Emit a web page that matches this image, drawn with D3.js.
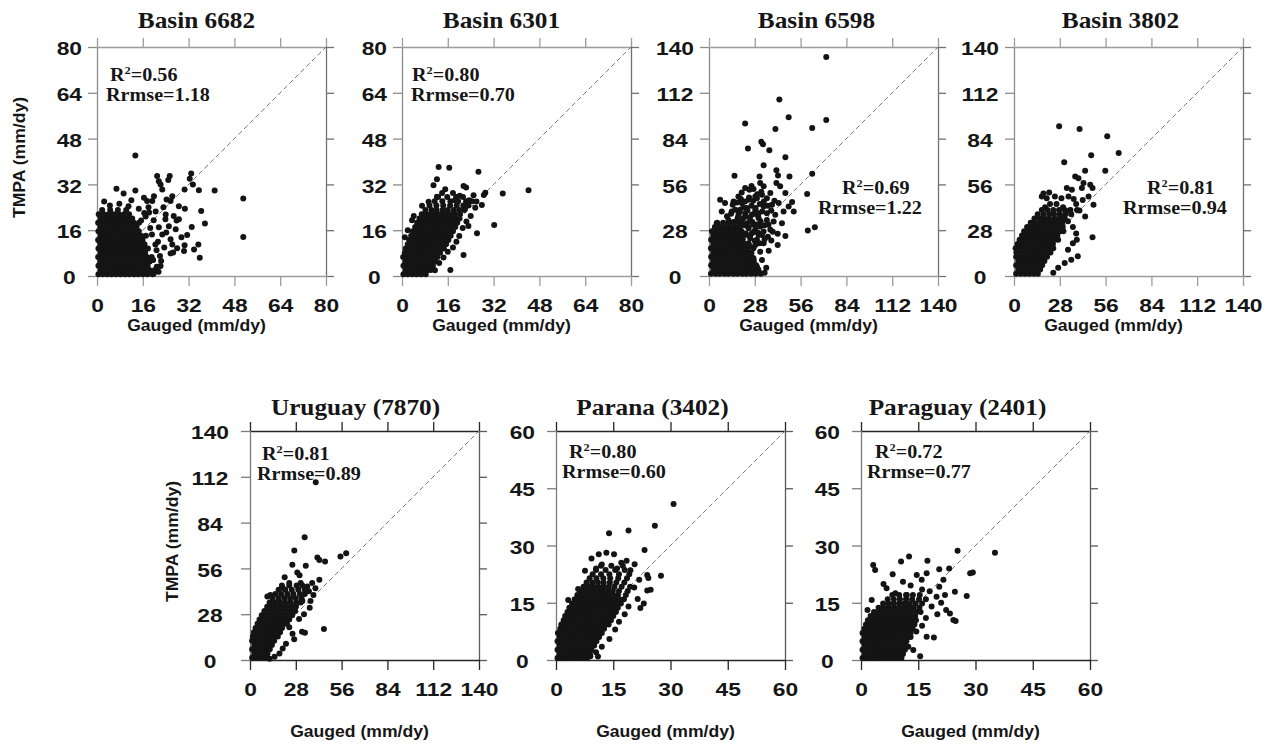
<!DOCTYPE html>
<html>
<head>
<meta charset="utf-8">
<script src="https://cdn.jsdelivr.net/npm/d3@7"></script>
<style>
  body { margin: 0; background: #fff; }
  svg { display: block; }
  .tick text { font-family: "Liberation Sans", Arial, sans-serif; font-weight: bold; font-size: 19px; fill: #161616; }
  .ptitle { font-family: "Liberation Serif", "Times New Roman", serif; font-weight: bold; font-size: 23px; fill: #161616; }
  .stat { font-family: "Liberation Serif", "Times New Roman", serif; font-weight: bold; font-size: 18px; fill: #161616; }
  .atitle { font-family: "Liberation Sans", Arial, sans-serif; font-weight: bold; font-size: 16px; fill: #161616; }
</style>
</head>
<body>
<svg id="chart" width="1269" height="744"></svg>
<script>
// ---- panel descriptors ----
const titles = ["Basin 6682", "Basin 6301", "Basin 6598", "Basin 3802", "Uruguay (7870)", "Parana (3402)", "Paraguay (2401)"];
const r2Values = ["0.56", "0.80", "0.69", "0.81", "0.81", "0.80", "0.72"];
const rrmseValues = ["1.18", "0.70", "1.22", "0.94", "0.89", "0.60", "0.77"];
const axisMax = [80, 80, 140, 140, 140, 60, 60];
const ticks80 = [0, 16, 32, 48, 64, 80];
const ticks140 = [0, 28, 56, 84, 112, 140];
const ticks60 = [0, 15, 30, 45, 60];
const tickSets = [ticks80, ticks80, ticks140, ticks140, ticks140, ticks60, ticks60];

// ---- daily pairs: dense part as [TMPA, [gauged...]] rows, sparse part as [gauged, TMPA] ----
const rows6682 = [
  [0.6, [0.5, 2.0, 3.6, 5.1, 6.7, 8.2, 9.8, 11.3, 12.9, 14.4, 16.0, 17.6, 19.4]],
  [2.1, [1.3, 2.8, 4.4, 5.9, 7.5, 9.0, 10.6, 12.1, 13.7, 15.2, 16.8, 18.3, 20.2]],
  [3.6, [0.5, 2.1, 3.6, 5.2, 6.7, 8.3, 9.8, 11.4, 12.9, 14.5, 16.0, 17.7]],
  [5.1, [1.2, 2.8, 4.3, 5.9, 7.4, 9.0, 10.5, 12.1, 13.6, 15.2, 16.7, 18.4]],
  [6.6, [0.4, 2.0, 3.5, 5.1, 6.6, 8.2, 9.7, 11.3, 12.8, 14.4, 15.9, 17.5, 19.1]],
  [8.1, [1.3, 2.9, 4.4, 6.0, 7.5, 9.1, 10.6, 12.2, 13.7, 15.3, 16.8]],
  [9.6, [0.5, 2.1, 3.6, 5.2, 6.7, 8.3, 9.8, 11.4, 12.9, 14.5, 16.1, 17.8]],
  [11.1, [1.2, 2.8, 4.3, 5.9, 7.4, 9.0, 10.5, 12.1, 13.6, 15.2, 16.6]],
  [12.6, [0.4, 2.0, 3.5, 5.1, 6.6, 8.2, 9.7, 11.3, 12.8, 14.4, 15.9]],
  [14.1, [1.3, 2.9, 4.4, 6.0, 7.5, 9.1, 10.6, 12.2, 13.7, 15.4, 17.1]],
  [15.6, [0.5, 2.1, 3.6, 5.2, 6.7, 8.3, 9.8, 11.4, 12.9, 14.6]],
  [17.1, [1.2, 2.8, 4.3, 5.9, 7.4, 9.0, 10.5, 12.1, 13.8]],
  [18.6, [0.4, 2.0, 3.5, 5.1, 6.6, 8.2, 9.7, 11.3, 12.9, 14.7]],
  [20.1, [1.3, 2.9, 4.4, 6.0, 7.5, 9.1, 10.6, 12.3]],
  [21.6, [0.6, 2.4, 4.1, 5.8, 7.6, 9.4, 11.2]],
  [23.1, [1.8, 4.6, 7.3, 10.2]]
];
const scatter6682 = [
  [6.8, 30.5], [9.3, 28.8], [13.4, 29.9], [13.4, 42.1], [21.0, 34.9], [21.6, 33.1], [25.4, 34.9], [24.9, 33.5],
  [32.9, 35.8], [32.4, 34.0], [33.5, 32.0], [35.6, 30.0], [41.1, 29.9], [51.1, 27.1], [51.1, 13.6], [36.4, 22.7],
  [37.7, 18.3], [33.1, 17.1], [35.9, 6.4], [35.4, 11.0], [33.9, 9.3], [30.6, 10.7], [30.4, 8.7], [28.0, 9.7],
  [25.7, 7.9], [26.6, 8.2], [28.6, 24.4], [30.7, 23.5], [30.6, 30.2], [22.2, 32.0], [22.8, 30.2], [26.3, 27.9],
  [24.3, 26.7], [25.7, 26.2], [27.8, 19.4], [28.6, 19.8], [27.5, 16.3], [25.7, 12.8], [26.3, 11.0], [22.2, 3.5],
  [22.4, 5.2], [23.9, 19.8], [25.1, 17.4], [19.9, 27.9], [19.3, 26.2], [16.4, 27.3], [17.5, 26.2],
  [4.5, 24.6], [7.8, 25.2], [11.0, 24.4], [14.6, 23.5], [16.5, 22.0], [18.0, 24.0], [20.5, 22.5], [19.8, 19.5],
  [21.6, 17.0], [22.8, 14.5], [21.3, 12.0], [23.5, 10.0], [20.8, 9.0], [22.0, 7.0], [21.5, 1.5], [19.8, 0.8],
  [24.0, 21.5], [17.0, 20.8], [19.2, 14.5], [20.4, 11.0], [12.0, 26.5], [2.5, 26.0], [23.2, 24.0], [26.8, 21.0],
  [29.5, 13.5], [31.5, 14.3], [24.2, 15.2], [18.6, 16.8], [19.6, 5.6], [20.9, 3.2], [18.2, 22.2], [15.4, 19.4]
];

const rows6301 = [
  [0.6, [0.5, 2.0, 3.6, 5.1, 6.7, 8.3]],
  [2.1, [1.3, 2.8, 4.4, 5.9, 7.5, 9.0, 10.0]],
  [3.6, [0.5, 2.1, 3.6, 5.2, 6.7, 8.3, 9.8, 10.8]],
  [5.1, [1.2, 2.8, 4.3, 5.9, 7.4, 9.0, 10.5, 11.6]],
  [6.6, [0.4, 2.0, 3.5, 5.1, 6.6, 8.2, 9.7, 11.3, 12.4]],
  [8.1, [1.0, 2.6, 4.1, 5.7, 7.2, 8.8, 10.3, 11.9, 13.3]],
  [9.6, [1.3, 2.9, 4.4, 6.0, 7.5, 9.1, 10.6, 12.2, 13.7, 14.6]],
  [11.1, [2.0, 3.6, 5.1, 6.7, 8.2, 9.8, 11.3, 12.9, 14.4, 15.4]],
  [12.6, [2.5, 4.1, 5.6, 7.2, 8.7, 10.3, 11.8, 13.4, 14.9, 16.2]],
  [14.1, [3.2, 4.8, 6.3, 7.9, 9.4, 11.0, 12.5, 14.1, 15.6, 17.0]],
  [15.6, [3.8, 5.4, 6.9, 8.5, 10.0, 11.6, 13.1, 14.7, 16.2, 17.8]],
  [17.1, [4.6, 6.2, 7.7, 9.3, 10.8, 12.4, 13.9, 15.5, 17.0, 18.6]],
  [18.6, [5.3, 6.9, 8.4, 10.0, 11.5, 13.1, 14.6, 16.2, 17.7, 19.3]],
  [20.1, [6.1, 7.7, 9.2, 10.8, 12.3, 13.9, 15.4, 17.0, 18.5, 20.1]],
  [21.6, [6.9, 8.6, 10.2, 11.9, 13.5, 15.2, 16.8, 18.5, 20.3]],
  [23.1, [8.2, 10.3, 12.1, 14.2, 16.0, 18.1, 20.0, 21.8]],
  [24.6, [9.6, 12.0, 14.4, 16.8, 19.1, 21.4, 23.2]],
  [26.1, [11.4, 14.1, 16.9, 19.6, 22.4, 24.4]],
  [27.6, [12.6, 15.8, 18.9, 21.3]]
];
const scatter6301 = [
  [12.8, 38.1], [16.5, 37.8], [26.7, 36.4], [12.2, 33.8], [11.0, 31.7], [21.5, 31.4], [22.4, 30.9], [15.1, 30.3],
  [29.1, 29.1], [28.6, 28.3], [35.2, 28.8], [44.2, 30.0], [9.3, 25.9], [12.2, 27.7], [4.1, 21.0], [3.5, 19.5],
  [32.2, 17.8], [26.2, 14.9], [21.5, 7.3], [16.9, 2.1], [27.9, 24.8], [25.6, 23.8], [24.0, 21.0], [22.5, 19.0],
  [21.2, 16.8], [20.0, 14.0], [19.0, 12.0], [17.8, 10.0], [16.0, 8.5], [14.5, 6.5], [13.0, 4.5], [11.5, 2.0],
  [2.0, 16.0], [1.0, 13.5], [7.0, 24.5], [17.8, 29.0], [20.2, 28.0], [18.5, 26.5], [23.5, 26.5], [25.0, 28.2],
  [14.0, 29.0], [26.0, 26.0], [22.0, 23.5], [23.2, 17.5]
];

const rows6598 = [
  [1.3, [1.2, 4.1, 6.6, 9.5, 12.0, 14.9, 17.4, 20.3, 22.8, 25.7, 28.5, 31.6]],
  [3.9, [2.6, 5.3, 8.1, 10.7, 13.4, 16.0, 18.8, 21.5, 24.3, 27.0, 30.1]],
  [6.5, [1.3, 4.0, 6.8, 9.4, 12.1, 14.7, 17.5, 20.2, 22.9, 25.8, 28.8]],
  [9.1, [2.5, 5.3, 8.0, 10.8, 13.4, 16.1, 18.7, 21.5, 24.3, 27.4]],
  [11.7, [1.3, 4.0, 6.7, 9.3, 12.1, 14.8, 17.6, 20.2, 23.0, 26.1]],
  [14.3, [2.6, 5.4, 8.0, 10.7, 13.3, 16.1, 18.8, 21.6, 24.6]],
  [16.9, [1.2, 4.0, 6.7, 9.4, 12.2, 14.8, 17.5, 20.3, 23.4]],
  [19.5, [2.6, 5.3, 8.1, 10.7, 13.4, 16.1, 18.9, 21.9]],
  [22.1, [1.3, 4.1, 6.7, 9.4, 12.0, 14.8, 17.6, 20.6]],
  [24.7, [2.6, 5.3, 8.0, 10.8, 13.4, 16.2, 19.3]],
  [27.3, [1.8, 4.5, 7.2, 9.9, 12.6, 15.4, 18.4]],
  [29.9, [3.6, 6.5, 9.4, 12.4, 15.6]],
  [32.5, [5.0, 8.6, 12.0]]
];
const scatter6598 = [
  [71.7, 133.9], [43.0, 107.9], [48.7, 97.1], [71.7, 95.3], [22.1, 93.2], [40.6, 89.9], [63.1, 90.5], [32.0, 82.0],
  [33.0, 80.5], [23.8, 77.9], [36.9, 76.9], [46.7, 72.6], [33.4, 67.7], [41.2, 64.6], [42.2, 61.5], [15.6, 61.3],
  [30.9, 60.9], [49.2, 60.9], [63.1, 62.5], [60.0, 50.1], [60.4, 27.8], [64.7, 29.8], [50.8, 45.2], [51.8, 39.4],
  [48.7, 42.5], [46.7, 24.5], [44.6, 32.3], [45.6, 39.4], [36.5, 15.5], [35.0, 5.1], [38.1, 21.7], [42.0, 19.0],
  [22.1, 53.8], [24.7, 52.7], [27.2, 53.2], [31.3, 56.8], [33.4, 54.8], [41.2, 56.8], [43.5, 54.8], [29.3, 47.6],
  [37.5, 50.7], [46.7, 50.7], [9.8, 44.6], [15.0, 45.6], [18.0, 48.6], [20.0, 44.6], [24.2, 46.6], [28.3, 48.6],
  [32.4, 49.7], [35.4, 47.6], [13.9, 39.4], [19.0, 40.5], [23.1, 41.5], [28.3, 40.5], [33.4, 42.5], [38.5, 43.5],
  [42.6, 44.6], [11.9, 34.3], [17.0, 33.3], [21.1, 35.4], [25.2, 33.3], [30.3, 35.4], [35.4, 34.3], [39.5, 33.3],
  [16.0, 28.2], [20.0, 27.2], [24.2, 29.2], [28.3, 28.2], [33.4, 27.2], [37.5, 28.2], [42.0, 25.8], [25.2, 23.1],
  [29.3, 22.1], [33.4, 20.0], [27.2, 17.0], [31.3, 14.9], [27.2, 10.8], [32.4, 9.8], [29.3, 5.7], [6.8, 46.6],
  [7.8, 39.4], [4.7, 32.3], [8.8, 30.3], [18.0, 37.4], [22.1, 38.4], [26.2, 37.4], [30.3, 38.4], [19.0, 31.3],
  [23.1, 32.3], [27.2, 31.3], [31.3, 30.3], [22.1, 25.1], [26.2, 26.2], [30.3, 25.1], [24.2, 20.0], [28.3, 19.0],
  [32.4, 25.1], [35.4, 38.4], [40.5, 37.4], [36.4, 31.3], [26.0, 14.0], [24.5, 8.0], [30.5, 2.5], [34.0, 2.0],
  [10.0, 22.0], [12.5, 24.0], [15.0, 22.5], [17.5, 25.0], [20.0, 23.0], [22.5, 26.0], [25.0, 24.5], [27.5, 27.0],
  [30.0, 26.5], [14.0, 27.0], [16.5, 30.0], [19.0, 28.5], [21.5, 31.0], [24.0, 30.0], [26.5, 33.0], [29.0, 31.5],
  [31.5, 33.5], [34.0, 31.0], [12.5, 30.5], [15.0, 33.0], [17.5, 35.5], [20.0, 34.0], [22.5, 36.5], [25.0, 35.5],
  [27.5, 38.0], [30.0, 37.0], [32.5, 39.5], [11.0, 36.5], [13.5, 38.0], [16.0, 40.5], [18.5, 39.0], [21.0, 42.0],
  [23.5, 40.0], [26.0, 43.0], [28.5, 41.5], [31.0, 44.0], [33.5, 45.5], [36.0, 43.0], [14.5, 43.5], [17.0, 45.0],
  [19.5, 47.0], [22.0, 45.5], [24.5, 48.0], [27.0, 46.0], [29.5, 50.0], [32.0, 51.5], [38.0, 40.0], [40.0, 46.0],
  [20.0, 51.0], [26.0, 55.0], [36.0, 24.0], [39.0, 27.0], [34.0, 22.5], [31.0, 20.0], [28.0, 21.5], [25.0, 18.0],
  [22.0, 19.0], [19.0, 17.5], [23.5, 12.5], [21.0, 9.5], [26.5, 6.0], [24.0, 3.5]
];

const rows3802 = [
  [1.3, [1.3, 4.0, 6.7, 9.4, 12.1, 14.6]],
  [3.9, [2.6, 5.3, 8.0, 10.7, 13.4, 16.0]],
  [6.5, [1.3, 4.0, 6.7, 9.4, 12.1, 14.8, 17.2]],
  [9.1, [2.6, 5.3, 8.0, 10.7, 13.4, 16.1, 18.6]],
  [11.7, [1.3, 4.0, 6.7, 9.4, 12.1, 14.8, 17.5, 20.2]],
  [14.3, [1.5, 4.2, 6.9, 9.6, 12.3, 15.0, 17.7, 20.4, 22.3]],
  [16.9, [1.0, 3.7, 6.4, 9.1, 11.8, 14.5, 17.2, 19.9, 22.6, 24.0]],
  [19.5, [2.2, 4.9, 7.6, 10.3, 13.0, 15.7, 18.4, 21.1, 23.8]],
  [22.1, [3.4, 6.1, 8.8, 11.5, 14.2, 16.9, 19.6, 22.3, 25.0, 27.0]],
  [24.7, [4.9, 7.6, 10.3, 13.0, 15.7, 18.4, 21.1, 23.8, 26.5]],
  [27.3, [6.2, 8.9, 11.6, 14.3, 17.0, 19.7, 22.4, 25.1, 28.0, 30.2]],
  [29.9, [8.0, 10.7, 13.4, 16.1, 18.8, 21.5, 24.2, 27.0, 29.8]],
  [32.5, [10.2, 12.9, 15.6, 18.3, 21.0, 23.7, 26.5, 29.5]],
  [35.1, [12.5, 15.8, 18.5, 21.4, 24.6, 27.5, 31.0]],
  [37.7, [14.5, 18.0, 21.5, 24.5, 28.0, 31.5, 35.0]],
  [40.3, [17.0, 20.5, 24.0, 27.5, 31.0, 34.5, 38.5]]
];
const scatter3802 = [
  [39.0, 12.0], [35.0, 10.0], [31.0, 8.0], [27.0, 5.0], [24.0, 2.0], [33.0, 16.0], [36.0, 20.0], [38.4, 22.1],
  [38.0, 26.0], [36.0, 30.0], [48.0, 23.7], [43.5, 36.4], [40.0, 40.0], [38.0, 44.0], [48.6, 43.5], [22.0, 44.0],
  [19.0, 42.0], [26.0, 44.0], [30.0, 42.0], [34.0, 40.0], [17.0, 48.6], [20.0, 47.6], [25.0, 48.6], [29.0, 47.6],
  [33.3, 48.6], [32.3, 53.8], [35.4, 52.7], [41.5, 53.8], [45.6, 48.6], [37.4, 60.9], [39.4, 59.8], [42.5, 56.8],
  [46.6, 55.8], [48.0, 53.8], [43.5, 64.4], [55.8, 64.4], [30.7, 69.5], [47.2, 73.8], [64.0, 75.2], [57.0, 85.4],
  [27.6, 91.6], [40.1, 89.9], [18.0, 50.5], [21.5, 51.0], [36.5, 47.0], [42.0, 46.5], [29.0, 36.0], [33.0, 33.5]
];

const rowsUruguay = [
  [1.3, [1.3, 4.0, 6.7, 9.4]],
  [3.9, [2.6, 5.3, 8.0, 10.7]],
  [6.5, [1.3, 4.0, 6.7, 9.4, 12.1]],
  [9.1, [2.6, 5.3, 8.0, 10.7, 13.4]],
  [11.7, [1.3, 4.0, 6.7, 9.4, 12.1, 14.8]],
  [14.3, [1.8, 4.5, 7.2, 9.9, 12.6, 15.3, 17.0]],
  [16.9, [2.4, 5.1, 7.8, 10.5, 13.2, 15.9, 18.4]],
  [19.5, [3.4, 6.1, 8.8, 11.5, 14.2, 16.9, 19.6]],
  [22.1, [4.6, 7.3, 10.0, 12.7, 15.4, 18.1, 20.8, 22.6]],
  [24.7, [5.8, 8.5, 11.2, 13.9, 16.6, 19.3, 22.0, 24.0]],
  [27.3, [7.2, 9.9, 12.6, 15.3, 18.0, 20.7, 23.4, 25.8]],
  [29.9, [8.8, 11.5, 14.2, 16.9, 19.6, 22.3, 25.0, 27.6]],
  [32.5, [10.5, 13.4, 16.3, 19.2, 22.1, 25.0, 28.0]],
  [35.1, [12.0, 15.2, 18.4, 21.6, 24.8, 28.2, 31.0]],
  [37.7, [13.8, 17.5, 21.0, 24.5, 28.0, 31.5]],
  [40.3, [15.5, 19.0, 22.8, 26.5, 30.5, 33.5]],
  [43.0, [17.5, 21.5, 25.5, 29.5, 33.5]],
  [45.6, [19.5, 24.0, 28.5, 32.0]]
];
const scatterUruguay = [
  [40.2, 108.6], [33.4, 75.1], [27.1, 66.9], [41.2, 62.7], [42.4, 61.2], [45.9, 60.2], [55.3, 63.3], [58.8, 65.3],
  [25.9, 58.2], [34.1, 57.6], [42.4, 49.0], [21.2, 50.6], [28.9, 53.5], [30.3, 51.8], [10.6, 38.8], [12.5, 39.8],
  [45.2, 19.0], [31.8, 17.3], [33.6, 16.7], [27.0, 12.7], [40.0, 43.9], [38.8, 39.8], [36.0, 42.0], [35.0, 45.0],
  [31.0, 47.0], [24.0, 47.0], [20.0, 44.0], [37.0, 36.0], [36.5, 32.0], [33.0, 28.0], [30.0, 25.0], [26.0, 16.0],
  [24.0, 20.0], [22.0, 10.0], [20.0, 7.0], [18.0, 4.0], [15.0, 2.0], [12.0, 0.8], [28.0, 33.0], [32.0, 36.0],
  [38.0, 47.0]
];

const rowsParana = [
  [0.5, [0.4, 1.5, 2.7, 3.8, 5.0, 6.1, 7.3]],
  [1.6, [1.0, 2.1, 3.3, 4.4, 5.6, 6.7, 7.9, 8.9]],
  [2.7, [0.4, 1.5, 2.7, 3.8, 5.0, 6.1, 7.3, 8.4, 9.3]],
  [3.8, [1.0, 2.1, 3.3, 4.4, 5.6, 6.7, 7.9, 9.0, 10.0]],
  [4.9, [0.4, 1.5, 2.7, 3.8, 5.0, 6.1, 7.3, 8.4, 9.6, 10.6]],
  [6.0, [1.0, 2.1, 3.3, 4.4, 5.6, 6.7, 7.9, 9.0, 10.2, 11.3]],
  [7.1, [0.5, 1.6, 2.8, 3.9, 5.1, 6.2, 7.4, 8.5, 9.7, 10.8, 12.0]],
  [8.2, [1.1, 2.2, 3.4, 4.5, 5.7, 6.8, 8.0, 9.1, 10.3, 11.4, 12.6]],
  [9.3, [1.4, 2.6, 3.7, 4.9, 6.0, 7.2, 8.3, 9.5, 10.6, 11.8, 12.9, 13.8]],
  [10.4, [2.0, 3.2, 4.3, 5.5, 6.6, 7.8, 8.9, 10.1, 11.2, 12.4, 13.5, 14.4]],
  [11.5, [2.4, 3.6, 4.7, 5.9, 7.0, 8.2, 9.3, 10.5, 11.6, 12.8, 13.9, 15.0]],
  [12.6, [3.0, 4.2, 5.3, 6.5, 7.6, 8.8, 9.9, 11.1, 12.2, 13.4, 14.5, 15.7]],
  [13.7, [3.5, 4.7, 5.8, 7.0, 8.1, 9.3, 10.4, 11.6, 12.7, 13.9, 15.0, 16.2]],
  [14.8, [4.2, 5.3, 6.5, 7.6, 8.8, 9.9, 11.1, 12.2, 13.4, 14.5, 15.7, 17.0]],
  [15.9, [4.9, 6.1, 7.2, 8.4, 9.5, 10.7, 11.8, 13.0, 14.1, 15.3, 16.6, 17.8]],
  [17.0, [5.6, 6.8, 7.9, 9.1, 10.2, 11.4, 12.5, 13.7, 14.9, 16.2, 18.3]],
  [18.1, [6.4, 7.6, 8.8, 10.0, 11.2, 12.4, 13.6, 14.9, 16.5, 18.8]],
  [19.2, [7.2, 8.5, 9.8, 11.1, 12.4, 13.8, 15.3, 17.2, 19.4]],
  [20.3, [8.0, 9.5, 11.0, 12.5, 14.1, 15.8, 17.9]],
  [21.4, [8.8, 10.6, 12.4, 14.2, 16.3, 18.6]],
  [22.5, [9.6, 11.8, 14.0, 16.5, 19.2]],
  [23.6, [10.5, 13.0, 15.5, 18.0]],
  [24.7, [11.8, 14.5, 17.5]]
];
const scatterParana = [
  [30.8, 40.9], [25.9, 35.2], [19.0, 33.9], [13.9, 33.2], [23.2, 28.8], [27.5, 22.1], [9.3, 26.6], [7.6, 23.4],
  [5.8, 18.6], [3.2, 15.7], [11.2, 27.7], [13.2, 28.1], [15.2, 27.7], [17.1, 25.5], [18.5, 26.0], [20.6, 25.1],
  [23.9, 22.3], [24.2, 21.5], [23.9, 18.2], [24.8, 18.4], [22.1, 13.6], [23.0, 14.8], [21.4, 16.0], [20.5, 19.0],
  [21.8, 21.0], [19.5, 23.5], [16.0, 24.0], [12.0, 25.0], [10.5, 24.0], [9.0, 1.0], [10.5, 2.0], [12.0, 3.5],
  [14.0, 5.5], [15.5, 8.0], [16.5, 10.0], [18.0, 12.0], [19.0, 14.0], [8.2, 0.6], [11.0, 0.9]
];

const rowsParaguay = [
  [0.5, [0.4, 1.5, 2.7, 3.8, 5.0, 6.1, 7.3, 8.4, 9.6, 10.6]],
  [1.6, [1.0, 2.1, 3.3, 4.4, 5.6, 6.7, 7.9, 9.0, 10.2, 11.0]],
  [2.7, [0.4, 1.5, 2.7, 3.8, 5.0, 6.1, 7.3, 8.4, 9.6, 10.7, 11.5]],
  [3.8, [1.0, 2.1, 3.3, 4.4, 5.6, 6.7, 7.9, 9.0, 10.2, 11.3]],
  [4.9, [0.4, 1.5, 2.7, 3.8, 5.0, 6.1, 7.3, 8.4, 9.6, 10.7, 11.9]],
  [6.0, [1.0, 2.1, 3.3, 4.4, 5.6, 6.7, 7.9, 9.0, 10.2, 11.3, 12.4]],
  [7.1, [0.4, 1.5, 2.7, 3.8, 5.0, 6.1, 7.3, 8.4, 9.6, 10.7, 11.9, 13.0]],
  [8.2, [0.9, 2.1, 3.2, 4.4, 5.5, 6.7, 7.8, 9.0, 10.1, 11.3, 12.4, 13.5]],
  [9.3, [1.3, 2.5, 3.6, 4.8, 5.9, 7.1, 8.2, 9.4, 10.5, 11.7, 12.8, 14.0]],
  [10.4, [1.8, 3.0, 4.1, 5.3, 6.4, 7.6, 8.7, 9.9, 11.0, 12.2, 13.3, 14.4]],
  [11.5, [2.5, 3.7, 4.8, 6.0, 7.1, 8.3, 9.4, 10.6, 11.7, 12.9, 14.2]],
  [12.6, [3.4, 4.6, 5.8, 7.0, 8.2, 9.4, 10.6, 11.8, 13.0, 14.4, 15.6]],
  [13.7, [4.6, 5.9, 7.2, 8.5, 9.8, 11.1, 12.4, 13.8, 15.3]],
  [14.8, [5.8, 7.2, 8.6, 10.0, 11.4, 12.8, 14.3, 16.0]],
  [15.9, [7.0, 8.6, 10.2, 11.8, 13.4, 15.2, 17.0]],
  [17.0, [8.2, 10.0, 11.8, 13.6, 15.4]]
];
const scatterParaguay = [
  [35.1, 28.1], [25.3, 28.6], [12.6, 27.1], [10.5, 25.8], [17.4, 26.0], [3.2, 24.9], [3.7, 23.6], [20.5, 23.8],
  [23.1, 24.0], [28.6, 22.7], [29.3, 22.9], [8.3, 22.5], [27.7, 16.8], [24.6, 17.9], [24.8, 10.2], [24.2, 10.5],
  [22.3, 13.1], [23.3, 12.2], [17.2, 6.1], [19.1, 5.9], [15.5, 1.0], [13.7, 2.6], [12.4, 3.5], [1.7, 13.1],
  [2.8, 15.7], [5.9, 19.9], [6.7, 18.8], [14.6, 22.3], [15.9, 21.0], [17.2, 22.7], [20.5, 19.2], [21.6, 21.0],
  [19.8, 16.6], [18.0, 18.0], [16.0, 18.5], [13.0, 19.5], [11.0, 20.5], [9.0, 17.5], [12.0, 17.0], [18.5, 14.0],
  [20.0, 12.0], [17.0, 11.0], [16.0, 9.0], [14.5, 7.5], [13.0, 6.0], [21.0, 15.0], [22.0, 17.0]
];

const denseRows = [rows6682, rows6301, rows6598, rows3802, rowsUruguay, rowsParana, rowsParaguay];
const sparsePairs = [scatter6682, scatter6301, scatter6598, scatter3802, scatterUruguay, scatterParana, scatterParaguay];

// ---- page layout ----
const SIZE = 229;
const layout = [
  { left: 97,   top: 47,  titleDx: -15, stat: [[110, 81], [106, 101]],  yTitle: true },
  { left: 402,  top: 47,  titleDx: -15, stat: [[412, 81], [411, 101]] },
  { left: 709,  top: 47,  titleDx: -7,  stat: [[842, 194], [818, 214]] },
  { left: 1014, top: 47,  titleDx: -8,  stat: [[1147, 194], [1123, 214]] },
  { left: 250,  top: 431, titleDx: -9,  stat: [[262, 460], [257, 480]], yTitle: true },
  { left: 556,  top: 431, titleDx: -18, stat: [[569, 458], [562, 478]] },
  { left: 861,  top: 431, titleDx: -18, stat: [[875, 458], [867, 478]] }
];
const rowStyle = {
  top:    { titleBase: 28,  labelGap: 15, gaugedBase: 331, gaugedDx: -15, hLine: "#9c9c9c", vLine: "#8c8c8c", rLine: "#707070" },
  bottom: { titleBase: 415, labelGap: 21, gaugedBase: 737, gaugedDx: -5,  hLine: "#262626", vLine: "#7c7c7c", rLine: "#5a5a5a" }
};
const SX = 1.2; // horizontal stretch of the tick numerals

const svg = d3.select("#chart");

function styleAxis(sel, color) {
  sel.select(".domain").attr("stroke", color).attr("stroke-width", 1.3);
  sel.selectAll(".tick line").attr("stroke", color).attr("stroke-width", 1.3);
}

titles.forEach((title, i) => {
  const L = layout[i];
  const st = i < 4 ? rowStyle.top : rowStyle.bottom;
  const max = axisMax[i];
  const ticks = tickSets[i];
  const x = d3.scaleLinear().domain([0, max]).range([L.left, L.left + SIZE]);
  const y = d3.scaleLinear().domain([0, max]).range([L.top + SIZE, L.top]);
  const g = svg.append("g");

  // top and right: tick marks only
  const topAx = g.append("g").attr("transform", `translate(0,${y(max)})`)
    .call(d3.axisTop(x).tickValues(ticks).tickSize(9).tickSizeOuter(0).tickFormat(""));
  styleAxis(topAx, st.hLine);
  const rightAx = g.append("g").attr("transform", `translate(${x(max)},0)`)
    .call(d3.axisRight(y).tickValues(ticks).tickSize(8).tickSizeOuter(0).tickFormat(""));
  styleAxis(rightAx, st.rLine);

  // bottom axis with numerals
  const botAx = g.append("g").attr("transform", `translate(0,${y(0)})`)
    .call(d3.axisBottom(x).tickValues(ticks).tickSize(10).tickSizeOuter(0).tickPadding(13).tickFormat(d3.format("d")));
  styleAxis(botAx, st.hLine);
  botAx.selectAll(".tick text").attr("transform", `scale(${SX},1)`).attr("fill", null);

  // left axis with numerals centred in a column
  const leftAx = g.append("g").attr("transform", `translate(${x(0)},0)`)
    .call(d3.axisLeft(y).tickValues(ticks).tickSize(9).tickSizeOuter(0).tickFormat(d3.format("d")));
  styleAxis(leftAx, st.vLine);
  const lt = leftAx.selectAll(".tick text").attr("fill", null);
  let maxW = 0;
  lt.each(function () { maxW = Math.max(maxW, this.getComputedTextLength() * SX); });
  lt.attr("text-anchor", "middle")
    .attr("dy", "0.4em")
    .attr("x", -(st.labelGap + maxW / 2) / SX)
    .attr("transform", `scale(${SX},1)`);

  // 1:1 reference line
  g.append("line")
    .attr("x1", x(0)).attr("y1", y(0)).attr("x2", x(max)).attr("y2", y(max))
    .attr("stroke", "#7a7a7a").attr("stroke-width", 1).attr("stroke-dasharray", "5,3");

  // daily points
  const pts = denseRows[i].flatMap(([tmpa, gs]) => gs.map(gv => [gv, tmpa])).concat(sparsePairs[i]);
  g.append("g").selectAll("circle").data(pts).join("circle")
    .attr("cx", d => x(d[0])).attr("cy", d => y(d[1])).attr("r", 3.0)
    .attr("fill", "#141414");

  // title
  g.append("text").attr("class", "ptitle")
    .attr("text-anchor", "middle")
    .attr("transform", `translate(${L.left + SIZE / 2 + L.titleDx},${st.titleBase}) scale(1.1,1)`)
    .text(title);

  // statistics
  const s1 = g.append("text").attr("class", "stat")
    .attr("transform", `translate(${L.stat[0][0]},${L.stat[0][1]}) scale(1.12,1)`);
  s1.append("tspan").text("R");
  s1.append("tspan").attr("dy", -7).style("font-size", "11px").text("2");
  s1.append("tspan").attr("dy", 7).text("=" + r2Values[i]);
  g.append("text").attr("class", "stat")
    .attr("transform", `translate(${L.stat[1][0]},${L.stat[1][1]}) scale(1.12,1)`)
    .text("Rrmse=" + rrmseValues[i]);

  // axis titles
  g.append("text").attr("class", "atitle").attr("text-anchor", "middle")
    .attr("transform", `translate(${L.left + SIZE / 2 + st.gaugedDx},${st.gaugedBase}) scale(1.1,1)`)
    .text("Gauged (mm/dy)");
  if (L.yTitle) {
    g.append("text").attr("class", "atitle").attr("text-anchor", "middle")
      .attr("transform", `translate(${L.left - 72},${L.top + SIZE / 2 - 4}) rotate(-90) scale(1.1,1)`)
      .text("TMPA (mm/dy)");
  }
});
</script>
</body>
</html>
